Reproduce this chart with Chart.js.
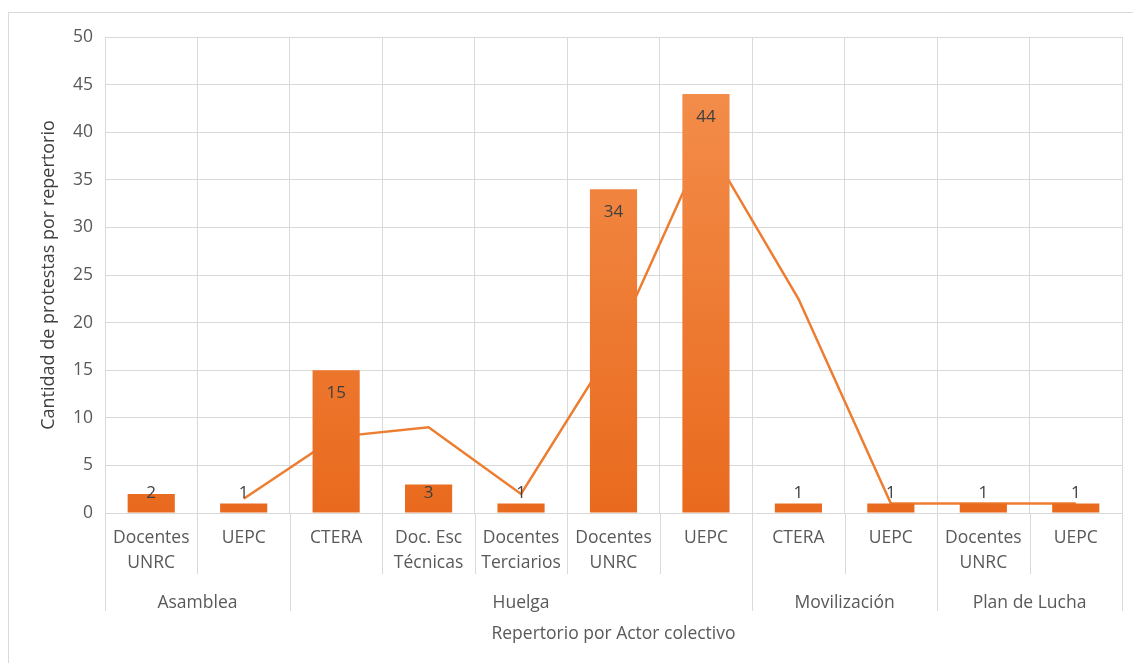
<!DOCTYPE html>
<html>
<head>
<meta charset="utf-8">
<script src="https://cdn.jsdelivr.net/npm/chart.js@4.4.0/dist/chart.umd.min.js"></script>
<style>
  body { margin: 0; background: #fff; }
  #frame { position: absolute; left: 8px; top: 12px; width: 1140px; height: 660px; border: 1px solid #d9d9d9; }
  #wrap { position: absolute; left: 0; top: 0; width: 1133px; height: 663px; }
</style>
</head>
<body>
<div id="frame"></div>
<div id="wrap"><canvas id="chart"></canvas></div>
<script>
// data
const actores = [["Docentes", "UNRC"], "UEPC", "CTERA", ["Doc. Esc", "Técnicas"], ["Docentes", "Terciarios"],
  ["Docentes", "UNRC"], "UEPC", "CTERA", "UEPC", ["Docentes", "UNRC"], "UEPC"];
const repertorios = ["Asamblea", "Huelga", "Movilización", "Plan de Lucha"];
const actoresPorRepertorio = [2, 5, 2, 2];
const protestas = [2, 1, 15, 3, 1, 34, 44, 1, 1, 1, 1];
const mediaMovil = [null, 1.5, 8, 9, 2, 17.5, 39, 22.5, 1, 1, 1];

const gridColor = "#d9d9d9";
const textColor = "#595959";
const fontName = "'Open Sans', sans-serif";

// bar value labels, Excel style "inside end"
const barLabels = {
  id: "barLabels",
  afterDatasetsDraw(chart) {
    const ctx = chart.ctx;
    const meta = chart.getDatasetMeta(0);
    ctx.save();
    ctx.font = "17px " + fontName;
    ctx.fillStyle = "#404040";
    ctx.textAlign = "center";
    ctx.textBaseline = "middle";
    meta.data.forEach((bar, i) => {
      const y = Math.min(bar.y + 23, bar.base - 19);
      ctx.fillText(protestas[i], bar.x, y);
    });
    ctx.restore();
  }
};

// second level of the x axis (repertorio groups)
const multiLevel = {
  id: "multiLevel",
  afterDraw(chart) {
    const x = chart.scales.x;
    const ctx = chart.ctx;
    const half = (x.getPixelForValue(1) - x.getPixelForValue(0)) / 2;
    const y0 = chart.chartArea.bottom;
    ctx.save();
    ctx.strokeStyle = gridColor;
    ctx.lineWidth = 1;
    for (let i = 0; i <= actores.length; i++) {
      const px = Math.round(x.getPixelForValue(i) - half) + 0.5;
      ctx.beginPath();
      ctx.moveTo(px, y0);
      ctx.lineTo(px, y0 + 61);
      ctx.stroke();
    }
    ctx.font = "17.5px " + fontName;
    ctx.fillStyle = textColor;
    ctx.textAlign = "center";
    ctx.textBaseline = "middle";
    let start = 0;
    actoresPorRepertorio.forEach((n, g) => {
      const left = x.getPixelForValue(start) - half;
      const right = x.getPixelForValue(start + n - 1) + half;
      [left, right].forEach(p => {
        const px = Math.round(p) + 0.5;
        ctx.beginPath();
        ctx.moveTo(px, y0);
        ctx.lineTo(px, y0 + 98);
        ctx.stroke();
      });
      ctx.fillText(repertorios[g], (left + right) / 2, y0 + 90);
      start += n;
    });
    ctx.restore();
  }
};

const ctx = document.getElementById("chart").getContext("2d");
new Chart(ctx, {
  type: "bar",
  data: {
    labels: actores,
    datasets: [{
      type: "bar",
      data: protestas,
      order: 0,
      categoryPercentage: 1,
      barPercentage: 0.51,
      backgroundColor(c) {
        const area = c.chart.chartArea;
        if (!area) return "#ED7D31";
        const g = c.chart.ctx.createLinearGradient(0, area.top, 0, area.bottom);
        g.addColorStop(0, "#F4914F");
        g.addColorStop(1, "#E96A1E");
        return g;
      }
    }, {
      type: "line",
      data: mediaMovil,
      order: 1,
      borderColor: "#ED7D31",
      borderWidth: 2.5,
      pointRadius: 0,
      tension: 0,
      fill: false
    }]
  },
  options: {
    responsive: true,
    maintainAspectRatio: false,
    animation: false,
    layout: { padding: { left: 30, top: 37, right: 11, bottom: 0 } },
    plugins: {
      legend: { display: false },
      tooltip: { enabled: false }
    },
    scales: {
      x: {
        grid: { color: gridColor, drawTicks: false, offset: true },
        border: { color: gridColor },
        ticks: { color: textColor, font: { family: fontName, size: 17.5, lineHeight: 1.4 }, padding: 13, maxRotation: 0, autoSkip: false },
        title: {
          display: true,
          text: "Repertorio por Actor colectivo",
          color: textColor,
          font: { family: fontName, size: 17.5 },
          padding: { top: 36, bottom: 18 }
        }
      },
      y: {
        min: 0,
        max: 50,
        ticks: { stepSize: 5, color: textColor, font: { family: fontName, size: 17.5 }, padding: 12 },
        grid: { color: gridColor, drawTicks: false },
        border: { color: gridColor },
        title: {
          display: true,
          text: "Cantidad de protestas por repertorio",
          color: "#404040",
          font: { family: fontName, size: 18 },
          padding: { top: 8, bottom: 4 }
        },
        afterFit(scale) { scale.width = 75; }
      }
    }
  },
  plugins: [barLabels, multiLevel]
});
</script>
</body>
</html>
